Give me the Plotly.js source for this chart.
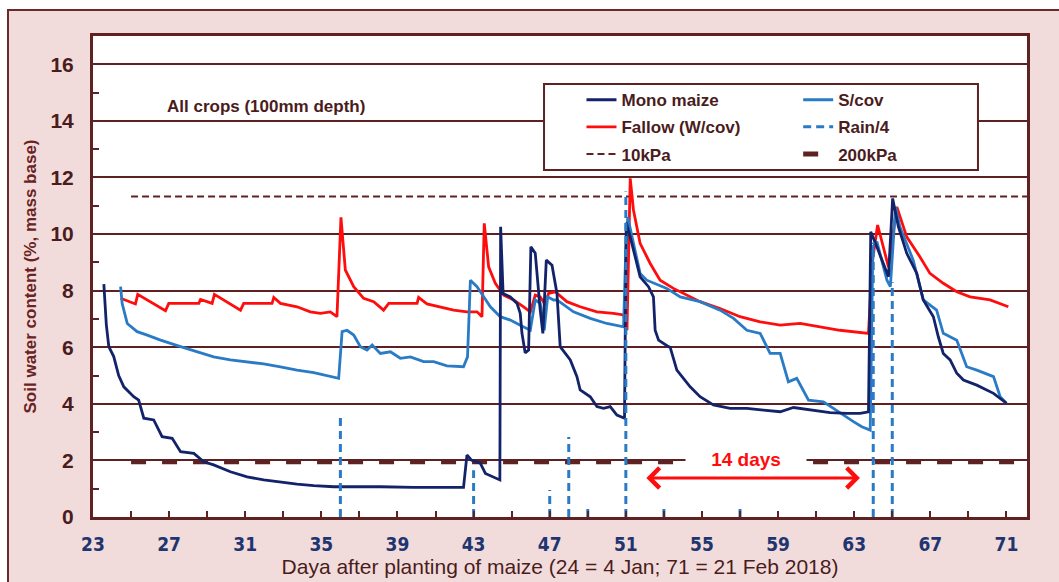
<!DOCTYPE html>
<html>
<head>
<meta charset="utf-8">
<script src="https://cdn.plot.ly/plotly-3.0.1.min.js"></script>
<style>html,body{margin:0;padding:0;background:#fff}#chart{width:1059px;height:582px}</style>
</head>
<body>
<div id="chart"></div>
<script>
// ---- data ----
const monoX = [23.57,23.7,23.83,24.09,24.35,24.62,25.14,25.4,25.67,26.19,26.63,27.16,27.6,28.3,28.82,29.34,30.22,31.1,31.97,32.85,33.72,34.6,35.65,38.1,39.85,42.47,42.65,42.9,43.35,43.62,44.05,44.38,44.42,44.55,44.93,45.28,45.45,45.54,45.71,45.89,46.01,46.24,46.5,46.64,46.82,47.12,47.38,47.55,48.08,48.43,48.6,49.13,49.48,49.83,50.18,50.53,50.93,51.02,51.23,51.75,52.19,52.45,52.54,52.72,53.24,53.33,53.68,54.38,54.9,55.6,56.48,57.36,58.23,59.11,59.81,60.86,61.73,62.61,63.31,63.75,63.87,64.19,64.8,65.02,65.32,65.76,66.29,66.63,67.16,67.42,67.68,68.04,68.39,68.74,69.44,70.32,71.0];
const monoY = [8.23,6.8,6.02,5.67,5.0,4.6,4.25,4.13,3.49,3.43,2.84,2.78,2.31,2.25,1.95,1.84,1.6,1.42,1.31,1.23,1.16,1.11,1.07,1.07,1.05,1.05,2.19,2.0,1.9,1.54,1.42,1.31,10.26,7.9,7.78,7.55,7.2,6.5,5.8,5.9,9.55,9.32,7.31,6.49,9.08,8.9,7.9,6.02,5.55,4.96,4.49,4.25,3.9,3.84,3.9,3.6,3.49,10.4,9.9,8.49,8.14,7.78,6.6,6.25,6.02,6.0,5.19,4.6,4.25,3.96,3.84,3.84,3.78,3.72,3.87,3.78,3.69,3.66,3.66,3.72,10.08,9.55,8.49,11.26,10.26,9.32,8.61,7.67,7.08,6.37,5.78,5.55,5.08,4.84,4.66,4.37,4.02];

const scovX = [24.45,24.53,24.8,25.32,25.85,26.55,27.6,28.47,29.34,30.22,31.1,31.97,32.85,33.72,34.6,35.3,35.91,36.09,36.35,36.7,37.05,37.4,37.67,38.1,38.63,39.15,39.68,40.37,40.9,41.6,42.47,42.68,42.83,43.18,43.53,43.88,44.4,44.93,45.45,45.98,46.24,46.5,46.71,46.89,47.2,47.38,48.25,49.13,50.0,50.88,51.0,51.1,51.4,51.75,52.1,53.15,53.86,54.9,55.95,56.66,57.36,58.06,58.58,59.11,59.54,59.98,60.6,61.38,61.91,62.43,62.96,63.4,63.84,63.98,64.19,64.72,64.9,65.17,65.4,66.1,66.63,67.33,67.68,68.39,68.91,69.44,70.32,70.67,71.0];
const scovY = [8.14,7.55,6.84,6.55,6.43,6.25,6.02,5.84,5.66,5.55,5.49,5.41,5.31,5.19,5.1,4.98,4.9,6.55,6.6,6.43,6.02,5.9,6.08,5.78,5.84,5.61,5.66,5.49,5.49,5.34,5.31,5.66,8.37,8.14,7.78,7.43,7.08,6.96,6.78,6.6,7.67,7.55,6.6,7.78,7.67,7.67,7.25,7.02,6.84,6.72,9.5,10.6,9.67,8.61,8.37,8.08,7.78,7.61,7.31,7.02,6.6,6.49,5.78,5.78,4.78,4.9,4.13,4.07,3.84,3.6,3.37,3.19,3.07,9.55,9.73,8.37,8.14,10.96,10.26,9.08,7.67,7.31,6.49,6.25,5.31,5.19,4.96,4.25,4.02];

const fallowX = [24.45,25.23,25.35,25.85,26.37,26.81,26.98,28.56,28.65,29.26,29.38,30.05,30.75,30.92,32.41,32.5,32.85,33.72,34.42,34.95,35.47,35.82,36.03,36.26,36.7,37.22,37.75,38.27,38.54,40.03,40.11,40.55,41.25,41.95,42.65,43.18,43.44,43.56,43.79,44.14,44.58,45.1,45.63,45.98,46.24,46.5,46.77,46.94,47.29,47.9,48.6,49.48,50.35,50.88,51.06,51.23,51.4,51.75,52.28,52.8,53.5,54.38,54.9,55.95,57.0,58.06,59.11,60.16,61.2,62.25,63.75,63.95,64.23,64.8,65.24,65.76,66.45,66.98,67.68,68.39,69.09,70.14,71.1];
const fallowY = [7.73,7.53,7.87,7.67,7.49,7.29,7.55,7.55,7.69,7.55,7.87,7.61,7.31,7.55,7.55,7.76,7.55,7.43,7.25,7.2,7.25,7.08,10.59,8.73,8.14,7.73,7.61,7.31,7.55,7.55,7.76,7.53,7.43,7.31,7.25,7.25,7.08,10.38,8.84,8.26,7.84,7.67,7.43,7.25,7.84,7.78,7.49,7.9,7.96,7.61,7.43,7.25,7.2,7.14,6.6,11.97,10.85,9.67,8.96,8.37,8.08,7.78,7.61,7.37,7.08,6.9,6.78,6.84,6.72,6.6,6.49,9.0,10.32,8.84,10.96,9.9,9.2,8.61,8.26,7.96,7.78,7.67,7.43];

const rainDays = [36,43,47,48,49,51,53,57,64,65];
const rainQuarter = [3.5,1.65,0.95,2.83,0.3,11.5,0.3,0.4,9.7,8.3];

const kPa10X = [25, 72.1];
const kPa10Y = [11.33, 11.33];
const kPa200X = [25, 71.4];
const kPa200Y = [1.95, 1.95];

const xTickVals = [23,27,31,35,39,43,47,51,55,59,63,67,71];
const yTickVals = [0,2,4,6,8,10,12,14,16];

// rain as vertical segments
const rainX = [], rainY = [];
rainDays.forEach((d, i) => { rainX.push(d, d, null); rainY.push(0, rainQuarter[i], null); });

const BROWN = '#5e2222';
const TXT = '#4a1c1c';
const NAVY = '#13236a';
const BLUE = '#2a7bc6';
const RED = '#ff0d0d';

const traces = [
  {x: kPa10X, y: kPa10Y, name: '10kPa', mode: 'lines', line: {color: BROWN, width: 2, dash: '7px,4px'},
    legend: 'legend', legendgroup: 'g10', legendrank: 3},
  {x: kPa200X, y: kPa200Y, name: '200kPa', mode: 'lines', line: {color: BROWN, width: 5, dash: '15px,16px'},
    legend: 'legend2', legendgroup: 'g200', legendrank: 3},
  {x: fallowX, y: fallowY, name: 'Fallow (W/cov)', mode: 'lines', line: {color: RED, width: 2.8},
    legend: 'legend', legendgroup: 'gf', legendrank: 2},
  {x: scovX, y: scovY, name: 'S/cov', mode: 'lines', line: {color: BLUE, width: 2.8},
    legend: 'legend2', legendgroup: 'gs', legendrank: 1},
  {x: monoX, y: monoY, name: 'Mono maize', mode: 'lines', line: {color: NAVY, width: 2.8},
    legend: 'legend', legendgroup: 'gm', legendrank: 1},
  {x: rainX, y: rainY, name: 'Rain/4', mode: 'lines', line: {color: BLUE, width: 3, dash: '8px,5px'}, connectgaps: false,
    legend: 'legend2', legendgroup: 'gr', legendrank: 2}
];

const legendCommon = {
  orientation: 'v', xanchor: 'left', yanchor: 'top', y: 0.904,
  bgcolor: 'rgba(0,0,0,0)', borderwidth: 0,
  font: {family: 'Liberation Sans, Arial, sans-serif', size: 17, weight: 'bold', color: TXT},
  traceorder: 'grouped', tracegroupgap: 2
};

const layout = {
  width: 1059, height: 582,
  paper_bgcolor: '#f2dcdb',
  plot_bgcolor: '#ffffff',
  margin: {l: 93, r: 32, t: 36, b: 65},
  font: {family: 'Liberation Sans, Arial, sans-serif', color: TXT},
  showlegend: true,
  legend: Object.assign({}, legendCommon, {x: 0.523}),
  legend2: Object.assign({}, legendCommon, {x: 0.755}),
  xaxis: {
    range: [23, 72.08], tickvals: xTickVals, ticktext: xTickVals.map(String),
    ticks: 'inside', ticklen: 6, tickwidth: 2, tickcolor: BROWN,
    minor: {tick0: 23, dtick: 2, ticks: 'inside', ticklen: 6, tickwidth: 2, tickcolor: BROWN, showgrid: false},
    showgrid: false, zeroline: false,
    showline: true, linecolor: BROWN, linewidth: 3, mirror: true,
    tickfont: {family: 'Liberation Sans Narrow, DejaVu Sans Condensed, Arial Narrow, sans-serif', size: 19, weight: 'bold', color: '#1f3570'},
    ticklabelstandoff: 8,
    title: {text: 'Daya after planting of maize (24 = 4 Jan; 71 = 21 Feb 2018)', standoff: 6,
      font: {family: 'Liberation Sans, Arial, sans-serif', size: 21, color: TXT}}
  },
  yaxis: {
    range: [0, 17], tickvals: yTickVals,
    ticks: 'inside', ticklen: 6, tickwidth: 2, tickcolor: BROWN,
    minor: {dtick: 1, ticks: 'inside', ticklen: 6, tickwidth: 2, tickcolor: BROWN, showgrid: false},
    showgrid: true, gridcolor: '#5e2020', gridwidth: 2,
    zeroline: false,
    showline: true, linecolor: BROWN, linewidth: 3, mirror: true,
    tickfont: {family: 'Liberation Sans, Arial, sans-serif', size: 21, weight: 'bold', color: TXT},
    ticklabelstandoff: 12,
    title: {text: 'Soil water content (%, mass base)', standoff: 10,
      font: {family: 'Liberation Sans, Arial, sans-serif', size: 17, weight: 'bold', color: '#6a2222'}}
  },
  shapes: [
    {type: 'rect', xref: 'paper', yref: 'paper', x0: -0.2, x1: 1.1, y0: 1.054, y1: 1.2, fillcolor: '#ffffff', line: {width: 0}, layer: 'below'},
    {type: 'rect', xref: 'paper', yref: 'paper', x0: -0.2, x1: -0.091, y0: -0.2, y1: 1.2, fillcolor: '#ffffff', line: {width: 0}, layer: 'below'},
    {type: 'rect', xref: 'paper', yref: 'paper', x0: -0.091, x1: 1.2, y0: -0.3, y1: 1.054, line: {color: '#6b2a2a', width: 2}, layer: 'below'},
    // legend box
    {type: 'rect', xref: 'paper', yref: 'paper', x0: 0.4829, x1: 0.9475, y0: 0.7214, y1: 0.9002,
      fillcolor: '#ffffff', line: {color: BROWN, width: 2}, layer: 'above'}
  ],
  annotations: [
    {x: 26.8, y: 14.5, xref: 'x', yref: 'y', xanchor: 'left', yanchor: 'middle', showarrow: false,
      text: 'All crops (100mm depth)', font: {size: 17, weight: 'bold', color: TXT}},
    {x: 57.3, y: 2.05, xref: 'x', yref: 'y', showarrow: false, text: '14 days',
      bgcolor: '#ffffff', width: 118, height: 22, font: {size: 19, weight: 'bold', color: RED}},
    {x: 63.3, y: 1.38, ax: 52.0, ay: 1.38, xref: 'x', yref: 'y', axref: 'x', ayref: 'y', text: '',
      showarrow: true, arrowside: 'end+start', arrowhead: 4, arrowsize: 1.3, arrowwidth: 3, arrowcolor: RED, standoff: 0, startstandoff: 0}
  ]
};

Plotly.newPlot('chart', traces, layout, {displayModeBar: false, staticPlot: true});
</script>
</body>
</html>
